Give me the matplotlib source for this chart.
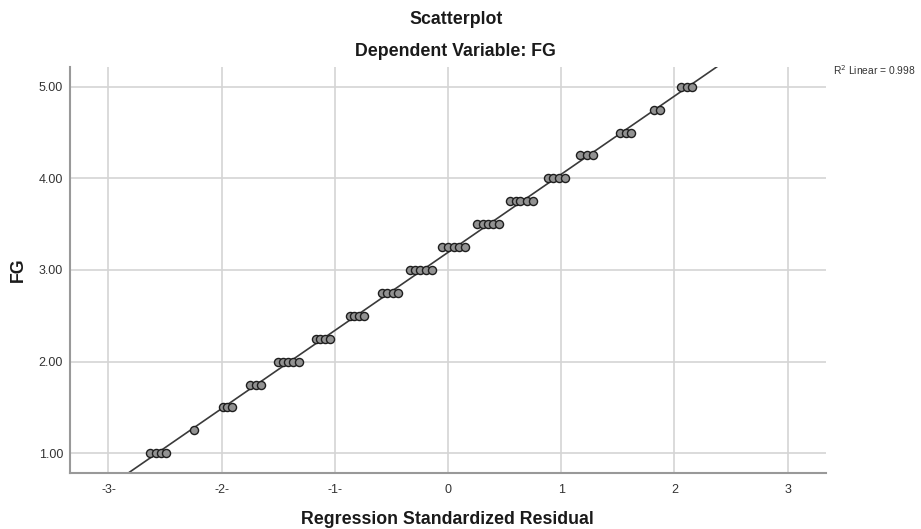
import numpy as np
import matplotlib
matplotlib.use('Agg')
import matplotlib.pyplot as plt

plt.rcParams['font.family'] = ['Liberation Sans', 'DejaVu Sans']

# FG 값별 잔차
fg_levels = [1.00, 1.25, 1.50, 1.75, 2.00, 2.25, 2.50, 2.75, 3.00,
             3.25, 3.50, 3.75, 4.00, 4.25, 4.50, 4.75, 5.00]
resid_groups = [
    [-2.63, -2.58, -2.54, -2.49],
    [-2.24],
    [-1.99, -1.95, -1.91],
    [-1.75, -1.70, -1.65],
    [-1.50, -1.46, -1.41, -1.37, -1.32],
    [-1.17, -1.13, -1.09, -1.04],
    [-0.87, -0.83, -0.79, -0.74],
    [-0.58, -0.54, -0.49, -0.44],
    [-0.34, -0.29, -0.25, -0.19, -0.14],
    [-0.05, 0.00, 0.05, 0.10, 0.15],
    [0.26, 0.31, 0.35, 0.40, 0.45],
    [0.55, 0.60, 0.64, 0.70, 0.75],
    [0.88, 0.93, 0.98, 1.03],
    [1.17, 1.23, 1.28],
    [1.52, 1.57, 1.62],
    [1.82, 1.87],
    [2.06, 2.11, 2.16],
]
x_ticks = [-3, -2, -1, 0, 1, 2, 3]
x_ticklabels = ['-3-', '-2-', '-1-', '0', '1', '2', '3']
y_ticks = [1.0, 2.0, 3.0, 4.0, 5.0]
r2_text = 'R$^2$ Linear = 0.998'

x = np.concatenate([np.array(g) for g in resid_groups])
y = np.concatenate([[lv] * len(g) for lv, g in zip(fg_levels, resid_groups)])

fig = plt.figure(figsize=(9.21, 5.29), dpi=100)
ax = fig.add_axes([70 / 921, 1 - 473 / 529, 756 / 921, 406 / 529])

xlim = (-3.34, 3.34)
ylim = (0.785, 5.215)
ax.set_xlim(*xlim)
ax.set_ylim(*ylim)

# 회귀선
slope, icpt = np.polyfit(x, y, 1)
xx = np.array(xlim)
ax.plot(xx, icpt + slope * xx, color='#3a3a3a', lw=1.2, zorder=2)

ax.scatter(x, y, s=34, facecolor='#929292', edgecolor='#1e1e1e',
           linewidth=1.0, zorder=3)

ax.set_xticks(x_ticks)
ax.set_xticklabels(x_ticklabels)
ax.set_yticks(y_ticks)
ax.set_yticklabels(['%.2f' % v for v in y_ticks])
ax.tick_params(axis='both', length=0, labelsize=9, colors='#333333')
ax.tick_params(axis='x', pad=8)
ax.tick_params(axis='y', pad=5)

ax.grid(True, color='#d4d4d4', lw=1.2)
ax.set_axisbelow(True)
for s in ['top', 'right']:
    ax.spines[s].set_visible(False)
for s in ['left', 'bottom']:
    ax.spines[s].set_color('#999999')
    ax.spines[s].set_linewidth(1.5)

fig.text(456 / 921, 1 - 20 / 529, 'Scatterplot', ha='center', va='center',
         fontsize=12.8, fontweight='bold', color='#1a1a1a')
fig.text(455 / 921, 1 - 52 / 529, 'Dependent Variable: FG', ha='center',
         va='center', fontsize=12.8, fontweight='bold', color='#1a1a1a')
fig.text(447 / 921, 1 - 520 / 529, 'Regression Standardized Residual',
         ha='center', va='center', fontsize=12.8, fontweight='bold',
         color='#1a1a1a')
fig.text(18 / 921, 1 - 270 / 529, 'FG', ha='center', va='center',
         rotation=90, fontsize=12.8, fontweight='bold', color='#1a1a1a')
fig.text(833 / 921, 1 - 70 / 529, r2_text, ha='left', va='center',
         fontsize=7.4, color='#333333')

fig.savefig('out.png', dpi=100)
